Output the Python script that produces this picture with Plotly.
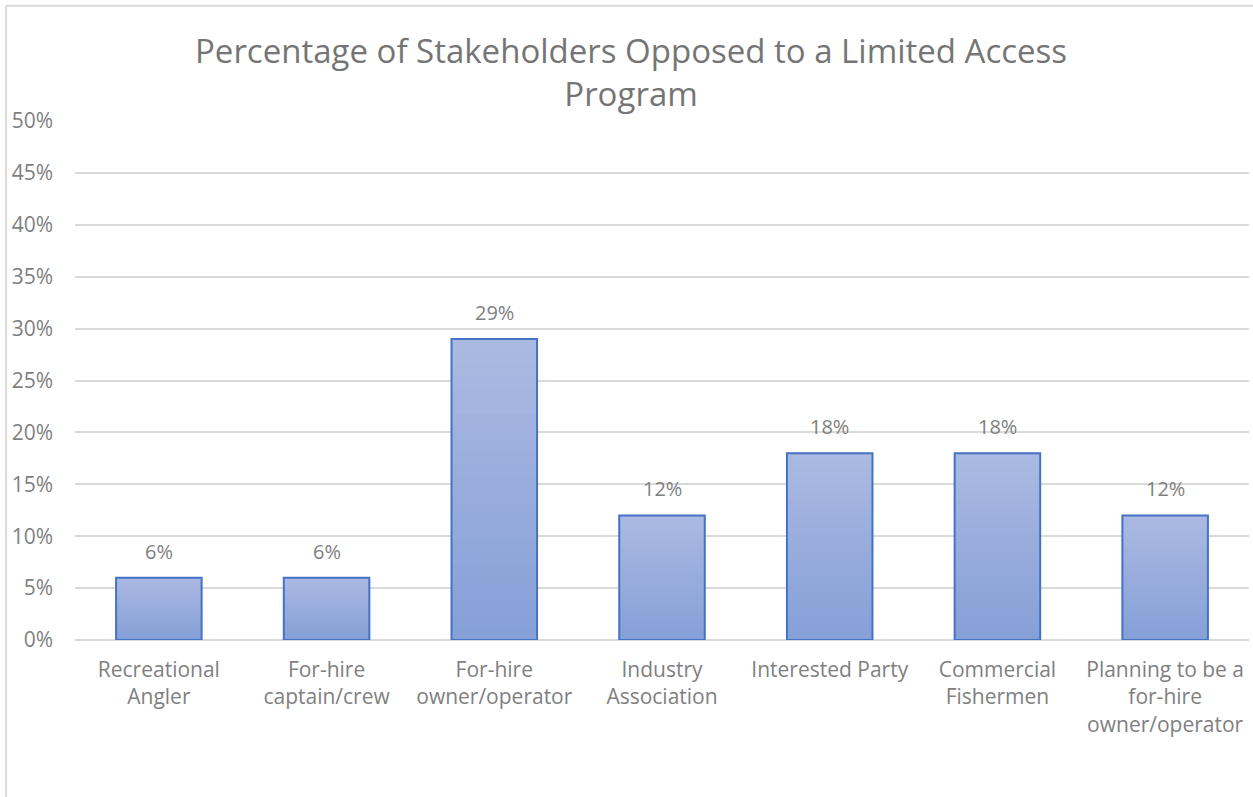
import plotly.graph_objects as go

categories = ["Recreational<br>Angler", "For-hire<br>captain/crew", "For-hire<br>owner/operator",
              "Industry<br>Association", "Interested Party", "Commercial<br>Fishermen",
              "Planning to be a<br>for-hire<br>owner/operator"]
values = [0.06, 0.06, 0.29, 0.12, 0.18, 0.18, 0.12]
value_labels = ["6%", "6%", "29%", "12%", "18%", "18%", "12%"]
title_text = "Percentage of Stakeholders Opposed to a Limited Access<br>Program"

FONT = "Open Sans, Lato, sans-serif"
top_rgb = (0xAA, 0xB9, 0xE1)
bot_rgb = (0x86, 0xA0, 0xD8)
N = 24

fig = go.Figure()
for k in range(N):
    t = k / (N - 1)
    c = tuple(int(round(top_rgb[i] + (bot_rgb[i] - top_rgb[i]) * t)) for i in range(3))
    frac = 1 - k / N
    fig.add_trace(go.Bar(
        x=categories, y=[v * frac for v in values],
        marker=dict(color="rgb(%d,%d,%d)" % c, line=dict(width=0)),
        width=0.51, hoverinfo="skip", showlegend=False,
    ))
fig.add_trace(go.Bar(
    x=categories, y=values,
    marker=dict(color="rgba(0,0,0,0)", line=dict(color="#4472C4", width=2)),
    width=0.51, showlegend=False,
))

for c, v, lab in zip(categories, values, value_labels):
    fig.add_annotation(x=c, y=v, text=lab, showarrow=False, yanchor="bottom", yshift=11,
                       font=dict(family=FONT, size=20, color="#7F7F7F"))

fig.add_annotation(xref="paper", yref="paper", x=0.474, y=1.184, xanchor="center", yanchor="top",
                   text=title_text, showarrow=False,
                   font=dict(family=FONT, size=33, color="#757575"))

fig.update_layout(
    barmode="overlay",
    width=1253, height=797,
    paper_bgcolor="white", plot_bgcolor="white",
    margin=dict(l=75, r=4, t=121, b=157),
    font=dict(family=FONT, size=21, color="#7F7F7F"),
    xaxis=dict(showgrid=False, showline=False, ticks="", ticklabelstandoff=15,
               tickfont=dict(size=21, color="#7F7F7F")),
    yaxis=dict(range=[0, 0.5], dtick=0.05, tickformat=".0%", showgrid=True, gridcolor="#D9D9D9",
               gridwidth=1.5, zeroline=True, zerolinecolor="#D9D9D9", zerolinewidth=1.5,
               ticks="", ticklabelstandoff=21, tickfont=dict(size=21, color="#7F7F7F")),
    shapes=[
        dict(type="line", xref="paper", yref="paper", x0=-0.0587, x1=-0.0587, y0=-0.5, y1=1.222,
             line=dict(color="#D9D9D9", width=2)),
        dict(type="line", xref="paper", yref="paper", x0=-0.0587, x1=1.1, y0=1.222, y1=1.222,
             line=dict(color="#D9D9D9", width=2)),
    ],
)

fig.write_html("out.html", config={"displayModeBar": False},
               post_script="document.body.style.margin='0';")
